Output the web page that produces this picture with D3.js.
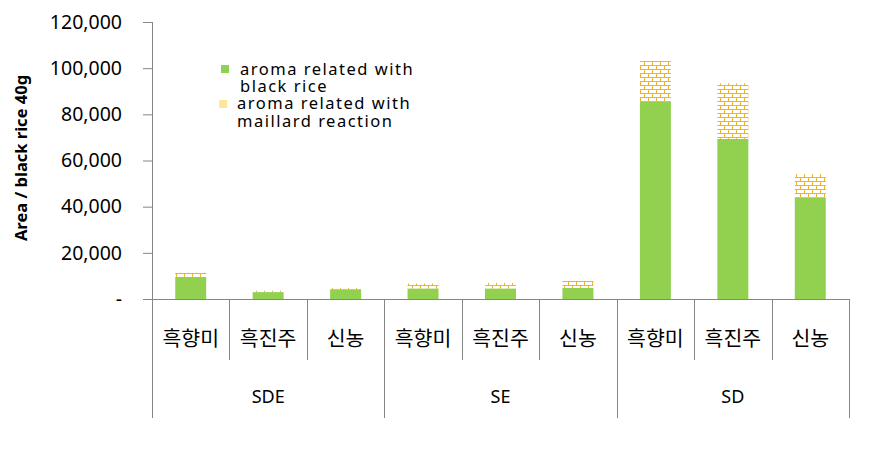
<!DOCTYPE html>
<html>
<head>
<meta charset="utf-8">
<script src="https://cdn.jsdelivr.net/npm/d3@7"></script>
<style>
  html, body { margin: 0; padding: 0; background: #fff; }
  svg { display: block; }
</style>
</head>
<body>
<svg id="chart" width="889" height="460"></svg>
<script>
// ---- data ----
const groups = ["SDE", "SE", "SD"];
const varieties = ["흑향미", "흑진주", "신농"];
const blackRice = [9600, 3000, 4000, 4600, 4600, 4900, 85400, 69400, 43900];
const maillard  = [1800, 600, 800, 2100, 2400, 2900, 17700, 24000, 10200];
const yTicks = [0, 20000, 40000, 60000, 80000, 100000, 120000];
const legendLines = [["aroma related with", "black rice"], ["aroma related with", "maillard reaction"]];

(function () {
// ---- layout ----
const svg = d3.select("#chart");
const pLeft = 152, pRight = 849, pTop = 22, pBottom = 299;
const axisColor = "#868686";
const green = "#92D050";
const brick = "#EBB42A";

const cats = [];
groups.forEach(g => varieties.forEach(v => cats.push(g + "|" + v)));

const x = d3.scaleBand().domain(cats).range([pLeft, pRight]).paddingInner(0.6).paddingOuter(0.3);
const y = d3.scaleLinear().domain([0, 120000]).range([pBottom, pTop]);

// pattern
const defs = svg.append("defs");
const pat = defs.append("pattern").attr("id", "brick")
  .attr("patternUnits", "userSpaceOnUse")
  .attr("width", 8).attr("height", 8)
  .attr("x", 0).attr("y", 1);
pat.append("rect").attr("width", 8).attr("height", 8).attr("fill", "#FFFFFF");
pat.append("path")
  .attr("d", "M0,0.5H8 M0,4.5H8 M0.5,0.5V4.5 M4.5,4.5V8")
  .attr("stroke", brick).attr("stroke-width", 1).attr("fill", "none");

// y axis
const yAxis = d3.axisLeft(y).tickValues(yTicks).tickSize(9)
  .tickFormat(d => d === 0 ? "-" : d3.format(",")(d));
const yg = svg.append("g").attr("transform", `translate(${pLeft},0)`).call(yAxis);
yg.select(".domain").remove();
yg.selectAll(".tick line").attr("stroke", axisColor);
yg.selectAll(".tick text").attr("x", -30)
  .attr("font-family", "'Noto Sans', sans-serif").attr("font-size", 19.5).attr("fill", "#000");
svg.append("line").attr("x1", pLeft + 0.5).attr("x2", pLeft + 0.5)
  .attr("y1", y(120000)).attr("y2", y(0)).attr("stroke", axisColor);

// y label
svg.append("text")
  .attr("transform", `translate(27,158) rotate(-90)`)
  .attr("text-anchor", "middle")
  .attr("font-family", "'Noto Sans', sans-serif").attr("font-weight", "bold")
  .attr("font-size", 16.5).attr("fill", "#000")
  .text("Area / black rice 40g");

// bars
const barG = svg.append("g");
cats.forEach((c, i) => {
  const g = blackRice[i], m = maillard[i];
  barG.append("rect").attr("x", x(c)).attr("width", x.bandwidth())
    .attr("y", y(g)).attr("height", y(0) - y(g)).attr("fill", green);
  barG.append("rect").attr("x", x(c)).attr("width", x.bandwidth())
    .attr("y", y(g + m)).attr("height", y(g) - y(g + m)).attr("fill", "url(#brick)");
});

// x axis line
svg.append("line").attr("x1", pLeft - 9).attr("x2", pRight)
  .attr("y1", pBottom + 0.5).attr("y2", pBottom + 0.5).attr("stroke", axisColor);

// category dividers and labels
const step = x.step();
const catBottom = 360, groupBottom = 418;
cats.forEach((c, i) => {
  const xl = x(c) - x.paddingOuter() * step;
  if (i % 3 !== 0) {
    svg.append("line").attr("x1", Math.round(xl) + 0.5).attr("x2", Math.round(xl) + 0.5)
      .attr("y1", pBottom).attr("y2", catBottom).attr("stroke", axisColor);
  }
  svg.append("text").attr("x", x(c) + x.bandwidth() / 2).attr("y", 346)
    .attr("text-anchor", "middle")
    .attr("font-family", "'Noto Sans CJK KR', sans-serif").attr("font-size", 20.5).attr("fill", "#000")
    .text(c.split("|")[1]);
});
// group dividers
for (let gi = 0; gi <= groups.length; gi++) {
  const xx = gi < groups.length ? x(cats[gi * 3]) - x.paddingOuter() * step : pRight;
  svg.append("line").attr("x1", Math.round(xx) + 0.5).attr("x2", Math.round(xx) + 0.5)
    .attr("y1", pBottom).attr("y2", groupBottom).attr("stroke", axisColor);
}
groups.forEach((g, gi) => {
  const x0 = x(cats[gi * 3]) - x.paddingOuter() * step;
  svg.append("text").attr("x", x0 + step * 1.5).attr("y", 403)
    .attr("text-anchor", "middle")
    .attr("font-family", "'Noto Sans', sans-serif").attr("font-size", 18).attr("fill", "#000")
    .text(g);
});

// legend
const leg = svg.append("g").attr("font-family", "'Noto Sans', sans-serif")
  .attr("font-size", 16.5).attr("letter-spacing", 1.5).attr("fill", "#000");
leg.append("rect").attr("x", 221).attr("y", 65).attr("width", 8).attr("height", 8).attr("fill", green);
leg.append("rect").attr("x", 219).attr("y", 100).attr("width", 8).attr("height", 8).attr("fill", "#FFE699");
const legX = [240, 237], legY = [[75, 92], [109, 127]];
legendLines.forEach((lines, si) => {
  lines.forEach((t, li) => {
    leg.append("text").attr("x", legX[si]).attr("y", legY[si][li]).text(t);
  });
});
})();
</script>
</body>
</html>
